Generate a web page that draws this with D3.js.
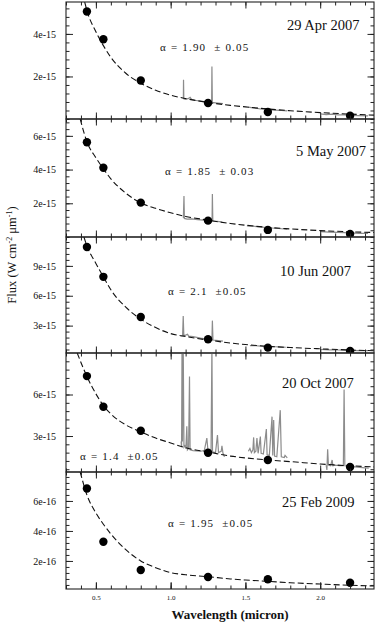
<!DOCTYPE html>
<html>
<head>
<meta charset="utf-8">
<script src="https://cdn.jsdelivr.net/npm/d3@7"></script>
<style>
body { margin: 0; background: #fff; }
text { font-family: "Liberation Serif", "Times New Roman", serif; fill: #111; }
</style>
</head>
<body>
<svg id="chart" width="381" height="623"></svg>
<script>
// photometric bands (micron)
var wavelengths = [0.44, 0.55, 0.80, 1.25, 1.65, 2.20];

var dates = ["29 Apr 2007", "5 May 2007", "10 Jun 2007", "20 Oct 2007", "25 Feb 2009"];
var alphaLabels = ["\u03b1 = 1.90  \u00b1 0.05", "\u03b1 = 1.85  \u00b1 0.03", "\u03b1 = 2.1  \u00b10.05",
                   "\u03b1 = 1.4  \u00b10.05", "\u03b1 = 1.95  \u00b10.05"];
// flux unit exponent of each panel
var exponents = [-15, -15, -15, -15, -16];

// photometry, in units of 10^exponent W cm-2 um-1
var phot1 = [5.05, 3.75, 1.81, 0.75, 0.33, 0.15];
var phot2 = [5.62, 4.11, 2.04, 0.97, 0.42, 0.18];
var phot3 = [10.9, 7.9, 3.87, 1.63, 0.79, 0.46];
var phot4 = [7.33, 5.12, 3.38, 1.79, 1.27, 0.76];
var phot5 = [6.83, 3.28, 1.40, 0.93, 0.78, 0.55];

// dashed power-law fits [wavelength, flux]
var fit1 = [[0.425,5.5],[0.44,5.1],[0.5,4.1],[0.55,3.45],[0.6,2.9],[0.7,2.15],[0.8,1.68],[0.9,1.35],[1.0,1.12],[1.1,0.96],[1.25,0.78],[1.4,0.64],[1.5,0.57],[1.65,0.47],[1.8,0.39],[2.0,0.3],[2.2,0.23],[2.36,0.18]];
var fit2 = [[0.395,7.0],[0.44,5.65],[0.5,4.7],[0.55,4.05],[0.6,3.45],[0.7,2.6],[0.8,2.02],[0.9,1.7],[1.0,1.44],[1.1,1.22],[1.25,1.0],[1.4,0.8],[1.5,0.7],[1.65,0.57],[1.8,0.48],[2.0,0.38],[2.2,0.31],[2.36,0.27]];
var fit3 = [[0.42,11.9],[0.44,11.0],[0.5,9.25],[0.55,7.9],[0.6,6.6],[0.7,4.85],[0.8,3.65],[0.9,2.8],[1.0,2.2],[1.1,1.9],[1.25,1.55],[1.4,1.25],[1.5,1.1],[1.65,0.92],[1.8,0.8],[2.0,0.67],[2.2,0.55],[2.36,0.48]];
var fit4 = [[0.375,9.0],[0.44,7.3],[0.5,6.05],[0.55,5.2],[0.6,4.6],[0.7,3.8],[0.8,3.3],[0.9,2.85],[1.0,2.5],[1.1,2.15],[1.25,1.85],[1.4,1.55],[1.5,1.42],[1.65,1.27],[1.8,1.15],[2.0,0.98],[2.2,0.85],[2.36,0.77]];
var fit5 = [[0.395,7.93],[0.44,6.4],[0.5,5.2],[0.55,4.45],[0.6,3.8],[0.7,2.75],[0.8,2.0],[0.9,1.55],[1.0,1.22],[1.1,1.08],[1.25,0.95],[1.4,0.8],[1.5,0.73],[1.65,0.64],[1.8,0.55],[2.0,0.46],[2.2,0.38],[2.36,0.33]];

// near-IR spectra (J, H, K segments) [wavelength, flux]
var spec1 = [
  [[1.085,0.95],[1.086,1.85],[1.088,0.95],[1.1,0.92],[1.12,0.97],[1.13,1.02],[1.14,0.92],[1.16,0.88],[1.2,0.84],[1.25,0.8],[1.274,0.78],[1.276,2.47],[1.279,0.78],[1.3,0.76],[1.35,0.72]],
  [[1.52,0.56],[1.55,0.52],[1.58,0.5],[1.6,0.47],[1.63,0.48],[1.65,0.44],[1.7,0.42],[1.74,0.4],[1.78,0.38]],
  [[2.0,0.24],[2.04,0.21],[2.08,0.23],[2.12,0.19],[2.16,0.2],[2.2,0.17],[2.26,0.16],[2.32,0.15]]
];
var spec2 = [
  [[1.085,1.12],[1.089,2.43],[1.092,1.1],[1.11,1.06],[1.14,1.08],[1.18,1.03],[1.22,1.0],[1.25,0.98],[1.277,0.96],[1.279,2.55],[1.282,0.95],[1.31,0.93],[1.34,0.9]],
  [[1.51,0.66],[1.55,0.64],[1.6,0.6],[1.65,0.55],[1.7,0.52],[1.74,0.49],[1.78,0.46]],
  [[2.0,0.32],[2.06,0.29],[2.12,0.27],[2.2,0.24],[2.26,0.22],[2.32,0.21]]
];
var spec3 = [
  [[1.08,2.0],[1.084,3.97],[1.088,2.0],[1.1,2.05],[1.113,2.14],[1.12,1.95],[1.15,1.9],[1.2,1.75],[1.25,1.62],[1.276,1.57],[1.279,3.5],[1.283,1.55],[1.32,1.5],[1.35,1.45]],
  [[1.53,1.0],[1.57,0.98],[1.6,0.95],[1.65,0.9],[1.7,0.88],[1.75,0.85],[1.77,0.83]],
  [[2.0,0.6],[2.06,0.57],[2.12,0.55],[2.2,0.51],[2.26,0.49],[2.32,0.48]]
];
var spec4 = [
  [[1.07,2.6],[1.073,2.2],[1.076,9.5],[1.079,2.6],[1.084,9.5],[1.089,2.2],[1.095,2.3],[1.102,2.1],[1.108,3.7],[1.112,2.0],[1.12,2.1],[1.126,7.3],[1.13,2.0],[1.15,1.95],[1.2,1.9],[1.225,1.95],[1.242,2.85],[1.25,1.9],[1.27,1.85],[1.276,9.5],[1.28,1.85],[1.3,1.8],[1.313,3.07],[1.32,1.8],[1.338,1.9],[1.343,2.3],[1.35,1.75],[1.36,1.5]],
  [[1.52,1.9],[1.53,2.1],[1.54,1.8],[1.55,2.0],[1.555,2.9],[1.56,1.8],[1.57,1.9],[1.577,2.85],[1.585,1.75],[1.6,2.96],[1.605,1.75],[1.62,1.7],[1.64,3.5],[1.645,1.65],[1.66,1.6],[1.678,4.4],[1.683,1.6],[1.689,4.15],[1.695,1.55],[1.71,1.5],[1.733,4.87],[1.74,1.5],[1.76,1.45],[1.765,1.6],[1.78,1.42]],
  [[2.04,0.9],[2.045,0.55],[2.05,2.04],[2.055,0.9],[2.07,0.85],[2.08,1.27],[2.085,0.85],[2.1,0.9],[2.13,0.85],[2.155,0.85],[2.16,6.36],[2.165,0.85],[2.2,0.8],[2.25,0.75],[2.3,0.7],[2.325,0.68]]
];
var spec5 = [];

var photometry = [phot1, phot2, phot3, phot4, phot5];
var fits = [fit1, fit2, fit3, fit4, fit5];
var spectra = [spec1, spec2, spec3, spec4, spec5];

// axis ranges and ticks
var xDomain = [0.3, 2.36];
var xMajorTicks = [0.5, 1.0, 1.5, 2.0];
var xTickLabels = ["0.5", "1.0", "1.5", "2.0"];
var yDomains = [[0, 5.5], [0, 7.0], [0.25, 11.9], [0.4, 9.0], [0.13, 7.93]];
var yMajorTicks = [[2, 4], [2, 4, 6], [3, 6, 9], [3, 6], [2, 4, 6]];
var yMinorStep = [0.4, 0.4, 0.6, 0.6, 0.4];

// layout
var left = 66, right = 374;
var panelEdges = [2, 119, 237, 353, 472, 589];

var svg = d3.select("#chart");

var x = d3.scaleLinear().domain(xDomain).range([left, right]);
var xMinor = d3.range(0.3, 2.36, 0.1).map(function (v) { return +v.toFixed(2); });

svg.append("defs").selectAll("clipPath")
    .data(dates)
    .enter()
    .append("clipPath")
    .attr("id", function (d, i) { return "clip" + i; })
    .append("rect")
    .attr("x", left)
    .attr("y", function (d, i) { return panelEdges[i]; })
    .attr("width", right - left)
    .attr("height", function (d, i) { return panelEdges[i + 1] - panelEdges[i]; });

dates.forEach(function (date, i) {
    var top = panelEdges[i], bottom = panelEdges[i + 1];
    var y = d3.scaleLinear().domain(yDomains[i]).range([bottom, top]);
    var g = svg.append("g");
    var plot = g.append("g").attr("clip-path", "url(#clip" + i + ")");

    // spectrum
    var line = d3.line()
        .x(function (d) { return x(d[0]); })
        .y(function (d) { return y(d[1]); });
    plot.selectAll("path.spec")
        .data(spectra[i])
        .enter()
        .append("path")
        .attr("class", "spec")
        .attr("d", line)
        .style("fill", "none")
        .style("stroke", "#8c8c8c")
        .style("stroke-width", 1.2);

    // dashed fit
    plot.append("path")
        .datum(fits[i])
        .attr("d", line.curve(d3.curveMonotoneX))
        .style("fill", "none")
        .style("stroke", "#111")
        .style("stroke-width", 1.1)
        .style("stroke-dasharray", "6,3");

    // photometry
    plot.selectAll("circle")
        .data(photometry[i])
        .enter()
        .append("circle")
        .attr("cx", function (d, j) { return x(wavelengths[j]); })
        .attr("cy", function (d) { return y(d); })
        .attr("r", 4.2)
        .style("fill", "#000");

    // ticks, all pointing inward
    var yMinor = d3.range(yDomains[i][0] - yDomains[i][0] % yMinorStep[i], yDomains[i][1], yMinorStep[i])
        .filter(function (v) { return v >= yDomains[i][0]; });
    var axes = [
        [d3.axisBottom(x).tickValues(xMinor).tickSize(-3.5), bottom, 0],
        [d3.axisBottom(x).tickValues(xMajorTicks).tickSize(-6.5), bottom, 0],
        [d3.axisTop(x).tickValues(xMinor).tickSize(-3.5), top, 0],
        [d3.axisTop(x).tickValues(xMajorTicks).tickSize(-6.5), top, 0],
        [d3.axisLeft(y).tickValues(yMinor).tickSize(-3.5), 0, left],
        [d3.axisRight(y).tickValues(yMinor).tickSize(-3.5), 0, right],
        [d3.axisRight(y).tickValues(yMajorTicks[i]).tickSize(-6.5), 0, right]
    ];
    axes.forEach(function (a) {
        var ag = g.append("g")
            .attr("transform", "translate(" + a[2] + "," + a[1] + ")")
            .call(a[0].tickFormat(""));
        ag.select(".domain").remove();
        ag.selectAll("line").style("stroke", "#222");
    });

    var yAxis = g.append("g")
        .attr("transform", "translate(" + left + ",0)")
        .call(d3.axisLeft(y).tickValues(yMajorTicks[i]).tickSize(-7).tickPadding(10)
            .tickFormat(function (d) { return d + "e" + exponents[i]; }));
    yAxis.select(".domain").remove();
    yAxis.selectAll("line").style("stroke", "#222");
    yAxis.selectAll("text")
        .style("font-family", "'Liberation Serif', serif")
        .style("font-size", "10px")
        .style("fill", "#111");

    if (i === dates.length - 1) {
        var xAxis = g.append("g")
            .attr("transform", "translate(0," + bottom + ")")
            .call(d3.axisBottom(x).tickValues(xMajorTicks).tickSize(-6.5).tickPadding(6)
                .tickFormat(function (d, k) { return xTickLabels[k]; }));
        xAxis.select(".domain").remove();
        xAxis.selectAll("line").style("stroke", "#222");
        xAxis.selectAll("text")
            .style("font-family", "'Liberation Serif', serif")
            .style("font-size", "7px")
            .style("fill", "#111");
    }

    // frame
    g.append("rect")
        .attr("x", left)
        .attr("y", top)
        .attr("width", right - left)
        .attr("height", bottom - top)
        .style("fill", "none")
        .style("stroke", "#222")
        .style("stroke-width", 1.1);
});

// panel labels
var dateX = [287, 296, 280, 282, 282];
var dateY = [30, 156, 276, 388, 507];
var alphaX = [160, 165, 168, 80, 168];
var alphaY = [51, 175, 295, 460, 527];

svg.selectAll("text.date")
    .data(dates)
    .enter()
    .append("text")
    .attr("class", "date")
    .attr("x", function (d, i) { return dateX[i]; })
    .attr("y", function (d, i) { return dateY[i]; })
    .style("font-size", "14.5px")
    .text(function (d) { return d; });

svg.selectAll("text.alpha")
    .data(alphaLabels)
    .enter()
    .append("text")
    .attr("class", "alpha")
    .attr("x", function (d, i) { return alphaX[i]; })
    .attr("y", function (d, i) { return alphaY[i]; })
    .style("font-size", "11px")
    .style("letter-spacing", "1.2px")
    .style("white-space", "pre")
    .text(function (d) { return d; });

// axis titles
svg.append("text")
    .attr("x", 230)
    .attr("y", 619)
    .attr("text-anchor", "middle")
    .style("font-size", "13px")
    .style("font-weight", "bold")
    .text("Wavelength (micron)");

var yt = svg.append("text")
    .attr("transform", "translate(16,255) rotate(-90)")
    .attr("text-anchor", "middle")
    .style("font-size", "12.5px");
yt.append("tspan").text("Flux (W cm");
yt.append("tspan").attr("dy", -4).style("font-size", "8px").text("-2");
yt.append("tspan").attr("dy", 4).text(" \u03bcm");
yt.append("tspan").attr("dy", -4).style("font-size", "8px").text("-1");
yt.append("tspan").attr("dy", 4).text(")");
</script>
</body>
</html>
